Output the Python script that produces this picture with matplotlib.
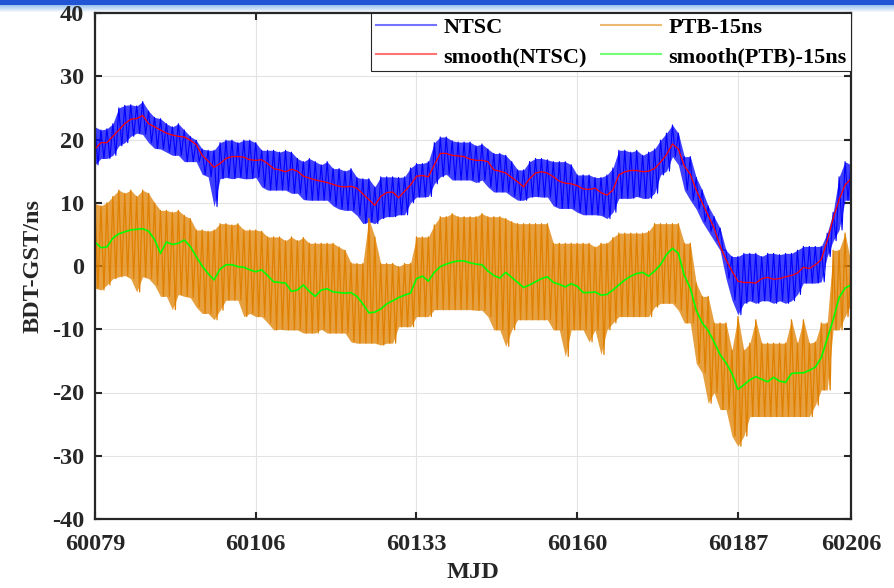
import numpy as np
import matplotlib.pyplot as plt

plt.rcParams['font.family'] = ['Liberation Serif', 'DejaVu Serif']
plt.rcParams['font.weight'] = 'bold'
plt.rcParams['axes.unicode_minus'] = False

mjd = np.arange(60079, 60207)

# NTSC: smooth curve and daily high / low of the raw trace (ns)
ntsc_smooth = [18.5, 19.5, 19.5, 20.5, 21.5, 22.5, 23.2, 23.3, 23.8, 22.5,
               22.0, 21.5, 21.0, 20.7, 20.5, 20.4, 19.9, 19.2, 17.5, 16.6,
               15.6, 16.2, 17.0, 17.3, 17.3, 17.2, 16.8, 16.7, 16.8, 16.2,
               15.4, 15.2, 14.9, 15.3, 15.0, 14.2, 13.9, 13.6, 13.4, 13.2,
               12.9, 12.6, 12.5, 12.6, 12.3, 11.4, 10.5, 9.6, 11.0, 11.6,
               11.7, 10.8, 11.8, 12.8, 14.2, 14.3, 14.1, 16.0, 17.8, 17.8,
               17.5, 17.4, 17.3, 16.9, 16.7, 16.7, 16.5, 15.2, 15.0, 14.7,
               14.0, 13.3, 12.5, 13.8, 14.7, 14.9, 14.7, 14.1, 13.4, 13.1,
               13.0, 12.7, 12.2, 12.1, 12.3, 11.6, 11.2, 12.0, 14.4, 14.9,
               15.1, 15.1, 14.9, 15.0, 15.4, 16.4, 17.6, 19.3, 18.5, 15.8,
               14.5, 12.0, 10.0, 8.0, 6.0, 3.2, 1.0, -0.8, -2.4, -2.6,
               -2.6, -2.7, -2.0, -1.8, -2.1, -2.0, -1.7, -1.5, -1.1, -0.2,
               -0.4, 0.2, 1.0, 4.0, 7.5, 10.5, 12.8, 13.8]
ntsc_hi = [22.0, 21.5, 21.7, 22.5, 25.0, 25.4, 25.5, 25.3, 26.0, 24.5,
           23.5, 23.3, 22.5, 22.0, 22.5, 21.5, 20.5, 19.9, 18.5, 18.3,
           18.3, 19.5, 19.9, 19.9, 19.5, 19.9, 19.9, 19.5, 18.3, 18.3,
           18.3, 18.0, 18.3, 18.0, 17.0, 16.5, 17.0, 16.5, 16.0, 16.5,
           15.4, 15.4, 15.0, 15.4, 14.0, 13.8, 13.8, 12.5, 14.1, 14.1,
           14.1, 14.0, 14.1, 15.5, 16.2, 16.2, 16.5, 19.5, 20.4, 20.4,
           19.8, 19.6, 19.6, 19.6, 19.0, 19.3, 18.5, 17.8, 17.8, 17.5,
           16.5, 15.2, 15.2, 16.5, 17.0, 17.0, 16.8, 16.5, 16.5, 16.5,
           16.0, 14.4, 14.4, 14.4, 14.0, 14.0, 14.4, 15.5, 18.3, 18.3,
           18.0, 18.3, 17.5, 18.0, 18.5, 19.9, 21.0, 22.3, 21.0, 17.3,
           17.3, 14.0, 12.0, 9.5, 7.8, 6.0, 2.5, 1.5, 1.5, 2.0,
           2.0, 2.0, 1.5, 2.0, 2.0, 1.8, 2.0, 2.0, 2.5, 3.1,
           3.1, 3.1, 3.1, 5.2, 8.5, 14.1, 16.5, 16.0]
ntsc_lo = [16.0, 17.0, 17.0, 17.5, 19.0, 19.5, 20.5, 21.0, 20.8, 19.5,
           18.6, 18.5, 18.0, 17.5, 17.5, 16.5, 16.5, 16.5, 14.5, 14.1,
           9.4, 13.8, 14.0, 13.8, 14.0, 13.8, 13.8, 14.0, 12.5, 12.0,
           12.0, 12.0, 12.0, 11.5, 11.5, 10.5, 10.4, 10.4, 10.4, 10.4,
           9.5, 9.0, 8.8, 8.8, 8.0, 6.7, 7.0, 6.7, 7.5, 7.8,
           7.8, 8.1, 8.1, 10.0, 10.9, 10.9, 11.0, 13.0, 14.1, 14.5,
           13.6, 13.6, 13.6, 13.6, 13.2, 13.6, 12.5, 11.7, 11.7, 11.7,
           11.0, 10.4, 10.4, 10.9, 11.0, 10.9, 10.9, 9.5, 9.1, 9.1,
           9.1, 8.5, 8.1, 8.1, 8.1, 8.0, 7.5, 8.5, 10.7, 10.7,
           10.7, 11.0, 10.7, 10.7, 11.5, 14.4, 15.0, 17.3, 16.0, 12.0,
           10.4, 9.0, 7.0, 5.5, 4.0, 2.5, -2.0, -5.4, -7.7, -5.9,
           -5.5, -5.9, -5.5, -5.5, -5.9, -5.5, -5.9, -5.5, -4.5, -2.7,
           -2.7, -2.7, -2.5, 1.5, 4.0, 5.7, 10.4, 10.4]

# PTB - 15 ns: smooth curve and daily high / low of the raw trace (ns)
ptb_smooth = [3.8, 2.9, 3.0, 4.4, 5.1, 5.4, 5.7, 5.8, 5.9, 5.5,
              4.2, 2.0, 3.8, 3.4, 3.6, 4.1, 3.1, 1.5, 0.0, -1.2,
              -2.2, -0.5, 0.2, 0.2, -0.1, -0.2, -0.6, -0.9, -0.6, -1.5,
              -2.5, -2.6, -2.7, -4.0, -3.8, -3.0, -4.0, -4.8, -3.8, -3.6,
              -4.1, -4.2, -4.3, -4.2, -4.8, -6.0, -7.4, -7.3, -6.8, -6.0,
              -5.5, -5.0, -4.6, -4.3, -2.0, -1.6, -2.4, -1.0, -0.1, 0.3,
              0.6, 0.8, 0.8, 0.5, 0.3, 0.2, -0.8, -1.5, -1.9, -1.0,
              -1.8, -2.6, -3.4, -3.0, -2.5, -2.0, -1.7, -2.6, -2.9, -3.3,
              -2.8, -3.2, -4.2, -4.2, -4.1, -4.6, -4.5, -3.8, -3.0, -2.2,
              -1.6, -1.2, -1.0, -1.6, -0.8, 0.2, 1.8, 2.8, 2.0, -1.5,
              -3.5, -7.0, -9.0, -10.2, -12.0, -14.0, -15.3, -17.0, -19.5, -18.8,
              -18.0, -17.5, -17.9, -18.3, -17.6, -18.2, -18.4, -17.0, -16.9, -16.9,
              -16.5, -16.0, -14.5, -11.5, -8.5, -5.0, -3.5, -3.0]
ptb_hi = [9.9, 9.5, 10.0, 11.0, 12.0, 11.5, 12.0, 11.0, 12.0, 11.5,
          10.0, 8.8, 8.8, 8.5, 8.8, 8.0, 7.5, 5.7, 5.7, 5.5,
          5.7, 6.7, 6.7, 6.5, 6.7, 5.7, 5.7, 5.7, 5.5, 4.6,
          4.6, 4.6, 4.0, 4.6, 4.0, 4.5, 3.6, 3.6, 3.6, 3.6,
          3.6, 3.0, 2.5, 0.5, 0.4, 0.4, 7.5, 4.6, 0.4, 0.4,
          0.4, -0.1, 0.4, 0.4, 4.6, 4.6, 4.6, 6.5, 7.8, 7.8,
          8.3, 7.8, 7.8, 7.8, 7.8, 8.3, 7.8, 7.8, 7.8, 7.5,
          7.0, 6.7, 6.7, 6.7, 6.7, 6.7, 6.7, 3.6, 3.6, 3.6,
          3.6, 3.6, 3.6, 3.6, 3.0, 3.6, 3.6, 4.5, 5.2, 5.2,
          5.2, 5.2, 5.2, 5.5, 6.7, 6.7, 6.7, 6.7, 6.7, 3.6,
          3.6, -2.7, -4.8, -4.8, -9.0, -9.0, -9.0, -13.3, -8.0, -13.3,
          -12.2, -8.5, -12.2, -12.2, -12.2, -12.2, -12.2, -8.5, -12.2, -8.5,
          -12.2, -12.0, -9.0, -9.0, 2.5, 2.5, 5.2, 0.5]
ptb_lo = [-3.5, -3.8, -3.0, -2.0, -1.7, -1.5, -2.0, -4.1, -1.7, -2.0,
          -3.0, -4.8, -4.8, -6.9, -4.5, -4.8, -5.0, -6.5, -7.5, -7.5,
          -8.5, -7.0, -5.4, -5.4, -5.4, -8.0, -7.5, -8.0, -8.0, -9.0,
          -10.1, -10.0, -10.1, -10.1, -10.1, -10.6, -10.6, -10.6, -10.0, -10.6,
          -10.6, -10.6, -10.6, -12.0, -12.2, -12.2, -12.2, -12.2, -12.5, -12.2,
          -12.2, -9.6, -9.6, -9.6, -8.0, -8.0, -8.0, -6.9, -6.9, -6.9,
          -6.9, -6.9, -6.9, -6.9, -7.0, -7.0, -8.0, -10.1, -10.1, -12.7,
          -10.1, -8.5, -8.5, -8.5, -8.5, -8.5, -8.5, -10.1, -10.1, -14.3,
          -10.1, -10.1, -10.1, -12.0, -10.1, -14.0, -10.1, -9.0, -8.0, -8.0,
          -8.0, -8.0, -8.0, -8.0, -6.5, -5.9, -5.9, -5.9, -7.0, -9.0,
          -9.0, -15.4, -16.9, -21.7, -20.0, -22.7, -22.7, -26.9, -28.5, -26.9,
          -23.8, -23.8, -23.8, -23.8, -23.8, -23.8, -23.8, -23.8, -23.8, -23.8,
          -23.8, -22.0, -19.6, -19.6, -10.1, -10.1, -8.0, -6.0]

xticks = [60079, 60106, 60133, 60160, 60187, 60206]


def raw_trace(ax, hi, lo, color, lw, label):
    # dense band of the raw samples, with the daily extremes drawn as a zig-zag
    ax.fill_between(mjd, lo, hi, color=color, alpha=0.75, lw=0)
    x = np.column_stack([mjd, mjd + 0.5]).ravel()
    y = np.column_stack([hi, lo]).ravel()
    line, = ax.plot(x, y, color=color, lw=lw, label=label)
    return line


fig = plt.figure(figsize=(8.94, 5.88), dpi=100)

# slide header: light gradient behind, solid strip in front
grad = fig.add_axes([0, 1 - 13/588, 1, 8/588], zorder=-1)
light = np.array([0.62, 0.77, 0.94])
grad.imshow(np.array([light + (1 - light) * t for t in np.linspace(0, 1, 8)])[:, None, :],
            aspect='auto', extent=[0, 1, 0, 1])
grad.axis('off')

ax = fig.add_axes([95/894, 69/588, 756/894, 506/588])

l1 = raw_trace(ax, ntsc_hi, ntsc_lo, '#0000ff', 0.8, 'NTSC')
l3 = raw_trace(ax, ptb_hi, ptb_lo, '#e08000', 0.9, 'PTB-15ns')
l2, = ax.plot(mjd, ntsc_smooth, color='#ff0000', lw=0.9, label='smooth(NTSC)')
l4, = ax.plot(mjd, ptb_smooth, color='#00ff00', lw=1.2, label='smooth(PTB)-15ns')

ax.set_xlim(60079, 60206)
ax.set_ylim(-40, 40)
ax.set_xticks(xticks)
ax.set_yticks(range(-40, 41, 10))
ax.grid(True, color='#e3e3e3', lw=0.8)
ax.set_axisbelow(True)
ax.tick_params(direction='in', length=5, width=1.5, top=True, right=True,
               labelsize=17.5, pad=8, colors='#262626')
ax.tick_params(axis='x', pad=11)
for s in ax.spines.values():
    s.set_linewidth(1.6)
    s.set_color('#262626')
ax.set_xlabel('MJD', fontsize=17.5, fontweight='bold', color='#262626', labelpad=5)
ax.set_ylabel('BDT-GST/ns', fontsize=17.5, fontweight='bold', color='#262626', labelpad=6)

leg = ax.legend(handles=[l1, l2, l3, l4], loc='upper right', bbox_to_anchor=(1, 1),
                borderaxespad=0, ncol=2, fontsize=16, handlelength=2.7,
                handletextpad=0.35, columnspacing=0.6, labelspacing=0.38,
                borderpad=0.2, fancybox=False, framealpha=1)
leg.get_frame().set_edgecolor('#262626')
leg.get_frame().set_linewidth(0.8)
for line in leg.get_lines():
    line.set_alpha(0.55)
    line.set_linewidth(1.5)

bar = fig.add_axes([0, 1 - 5/588, 1, 5/588], zorder=10)
bar.set_facecolor('#2155d6')
bar.set_xticks([])
bar.set_yticks([])
for s in bar.spines.values():
    s.set_visible(False)

fig.savefig('out.png', dpi=100)
